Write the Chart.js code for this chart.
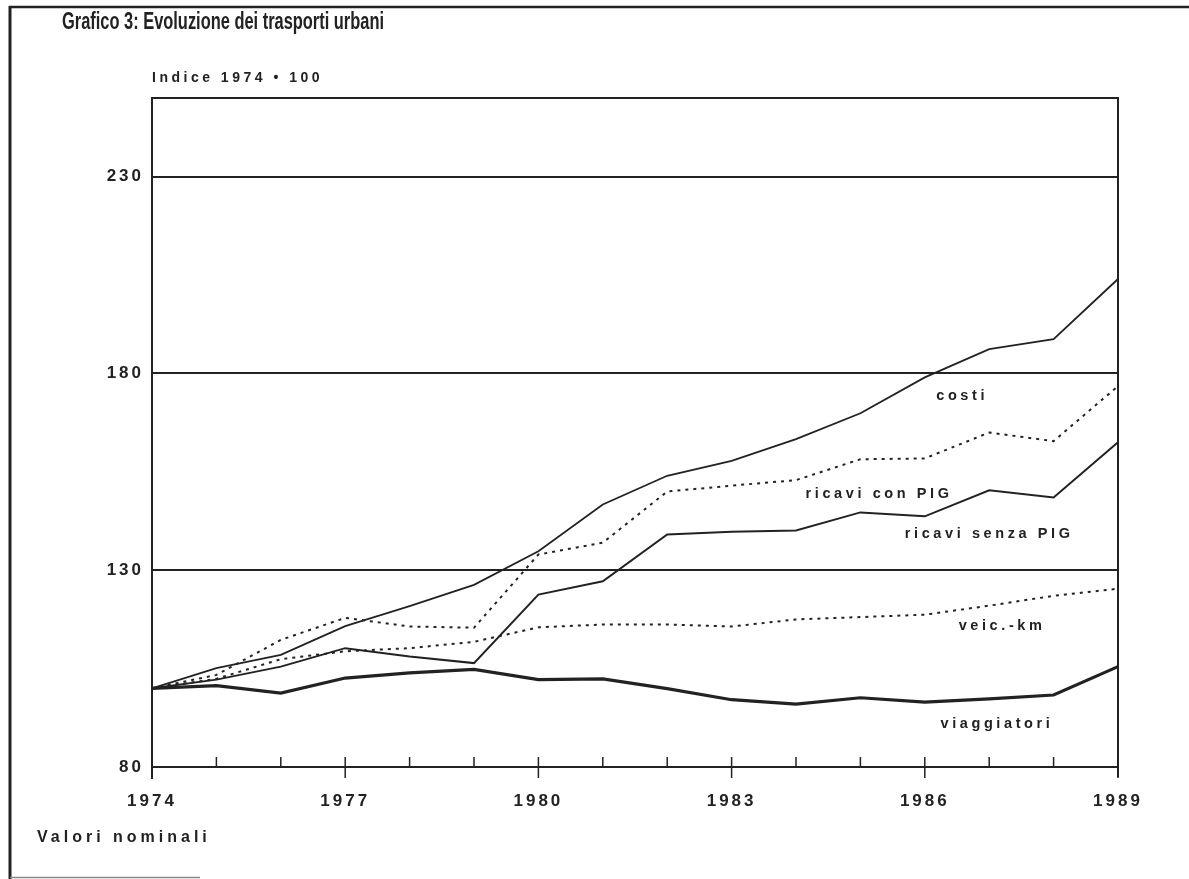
<!DOCTYPE html>
<html>
<head>
<meta charset="utf-8">
<script src="https://cdn.jsdelivr.net/npm/chart.js@4.4.1/dist/chart.umd.min.js"></script>
<style>
  html, body { margin: 0; padding: 0; background: #ffffff; }
  #wrap { position: relative; width: 1189px; height: 879px; }
</style>
</head>
<body>
<div id="wrap"><canvas id="c"></canvas></div>
<script>
// ---- data ----
const years = ['1974','1975','1976','1977','1978','1979','1980','1981','1982','1983','1984','1985','1986','1987','1988','1989'];
const costi = [100, 105.1, 108.5, 115.8, 120.9, 126.3, 134.8, 146.7, 154.0, 157.8, 163.3, 169.9, 179.0, 186.2, 188.7, 204.0];
const ricaviConPIG = [100, 103.4, 112.3, 117.9, 115.7, 115.4, 134.0, 137.0, 150.0, 151.5, 152.9, 158.2, 158.4, 165.0, 162.8, 176.8];
const ricaviSenzaPIG = [100, 102.2, 105.5, 110.2, 108.1, 106.4, 123.8, 127.2, 139.1, 139.8, 140.1, 144.7, 143.7, 150.3, 148.5, 162.5];
const veicKm = [100, 102.4, 107.4, 109.4, 110.2, 111.8, 115.5, 116.2, 116.2, 115.7, 117.5, 118.1, 118.7, 121.0, 123.5, 125.3];
const viaggiatori = [100, 100.7, 98.8, 102.6, 103.9, 104.8, 102.2, 102.4, 99.9, 97.1, 96.0, 97.6, 96.5, 97.3, 98.3, 105.5];
const yTicks = [80, 130, 180, 230];
const yMin = 80, yMax = 250;
const labeledYears = ['1974','1977','1980','1983','1986','1989'];

const titleText = 'Grafico 3: Evoluzione dei trasporti urbani';
const unitText = 'Indice 1974 \u2022 100';
const noteText = 'Valori nominali';
// series label anchors in data units (year, value)
const seriesLabels = [
  { text: 'costi', year: 1986.58, value: 174.2 },
  { text: 'ricavi con PIG', year: 1985.29, value: 149.3 },
  { text: 'ricavi senza PIG', year: 1987.0, value: 139.1 },
  { text: 'veic.-km', year: 1987.2, value: 115.9 },
  { text: 'viaggiatori', year: 1987.12, value: 91.0 }
];

const INK = '#222222';
const FONT = '"Liberation Sans", Arial, Helvetica, sans-serif';

const decor = {
  id: 'decor',
  beforeDraw(chart) {
    chart.ctx.letterSpacing = '3px';
  },
  afterDraw(chart) {
    const ctx = chart.ctx;
    const a = chart.chartArea;
    const xs = chart.scales.x;
    const ys = chart.scales.y;
    ctx.save();
    ctx.letterSpacing = '0px';
    ctx.strokeStyle = INK;
    ctx.lineCap = 'butt';
    // outer frame
    ctx.lineWidth = 3;
    ctx.beginPath(); ctx.moveTo(10, 6); ctx.lineTo(10, 879); ctx.stroke();
    ctx.lineWidth = 2.5;
    ctx.beginPath(); ctx.moveTo(9, 7); ctx.lineTo(1189, 7); ctx.stroke();
    ctx.strokeStyle = '#888';
    ctx.lineWidth = 1.5;
    ctx.beginPath(); ctx.moveTo(10, 877.5); ctx.lineTo(200, 877.5); ctx.stroke();
    ctx.strokeStyle = INK;
    // plot box top and right
    ctx.lineWidth = 2;
    ctx.beginPath();
    ctx.moveTo(a.left, a.top); ctx.lineTo(a.right, a.top); ctx.lineTo(a.right, a.bottom + 10);
    ctx.stroke();
    // y axis extension below
    ctx.beginPath(); ctx.moveTo(a.left, a.bottom); ctx.lineTo(a.left, a.bottom + 12); ctx.stroke();
    // x ticks
    ctx.lineWidth = 1.5;
    years.forEach((yr, i) => {
      const px = xs.getPixelForValue(i);
      const major = labeledYears.includes(yr);
      ctx.beginPath();
      ctx.moveTo(px, a.bottom - 10);
      ctx.lineTo(px, major ? a.bottom + 11 : a.bottom);
      ctx.stroke();
    });
    // title (condensed bold, horizontally compressed)
    ctx.fillStyle = INK;
    ctx.textBaseline = 'alphabetic';
    ctx.textAlign = 'left';
    ctx.font = 'bold 23px ' + FONT;
    const tw = ctx.measureText(titleText).width;
    ctx.save();
    ctx.translate(62, 29);
    ctx.scale(322 / tw, 1);
    ctx.fillText(titleText, 0, 0);
    ctx.restore();
    // unit line
    ctx.letterSpacing = '3.5px';
    ctx.font = 'bold 14px ' + FONT;
    ctx.fillText(unitText, 152, 82);
    // note
    ctx.letterSpacing = '4px';
    ctx.font = 'bold 16px ' + FONT;
    ctx.fillText(noteText, 37, 842);
    // series labels
    ctx.letterSpacing = '3.6px';
    ctx.font = 'bold 14.5px ' + FONT;
    ctx.textAlign = 'center';
    ctx.textBaseline = 'middle';
    seriesLabels.forEach(l => {
      const px = xs.getPixelForValue(l.year - 1974);
      const py = ys.getPixelForValue(l.value);
      ctx.fillText(l.text, px, py);
    });
    ctx.restore();
    ctx.letterSpacing = '0px';
  }
};

new Chart(document.getElementById('c'), {
  type: 'line',
  data: {
    labels: years,
    datasets: [
      { label: 'costi', data: costi, borderColor: INK, borderWidth: 1.8, pointRadius: 0, tension: 0 },
      { label: 'ricavi con PIG', data: ricaviConPIG, borderColor: INK, borderWidth: 2, borderDash: [3, 5], pointRadius: 0, tension: 0 },
      { label: 'ricavi senza PIG', data: ricaviSenzaPIG, borderColor: INK, borderWidth: 2, pointRadius: 0, tension: 0 },
      { label: 'veic.-km', data: veicKm, borderColor: INK, borderWidth: 2, borderDash: [3, 5], pointRadius: 0, tension: 0 },
      { label: 'viaggiatori', data: viaggiatori, borderColor: INK, borderWidth: 3.2, pointRadius: 0, tension: 0 }
    ]
  },
  options: {
    responsive: true,
    maintainAspectRatio: false,
    animation: false,
    layout: { padding: { left: 0, top: 98, right: 71, bottom: 0 } },
    plugins: {
      legend: { display: false },
      title: { display: false },
      tooltip: { enabled: false }
    },
    scales: {
      x: {
        type: 'category',
        offset: false,
        grid: { display: false, drawTicks: false },
        border: { display: true, color: INK, width: 2 },
        ticks: {
          autoSkip: false,
          maxRotation: 0,
          minRotation: 0,
          color: INK,
          font: { family: FONT, size: 17, weight: 'bold' },
          padding: 24,
          callback: function (v, i) { const s = years[i]; return labeledYears.includes(s) ? s : ''; }
        },
        afterFit: s => { s.height = 112; }
      },
      y: {
        min: yMin,
        max: yMax,
        afterBuildTicks: s => { s.ticks = yTicks.map(v => ({ value: v })); },
        grid: { color: INK, lineWidth: 2, drawTicks: false, tickLength: 0 },
        border: { display: true, color: INK, width: 2 },
        ticks: {
          color: INK,
          font: { family: FONT, size: 17, weight: 'bold' },
          padding: 8
        },
        afterFit: s => { s.width = 152; }
      }
    }
  },
  plugins: [decor]
});
</script>
</body>
</html>
